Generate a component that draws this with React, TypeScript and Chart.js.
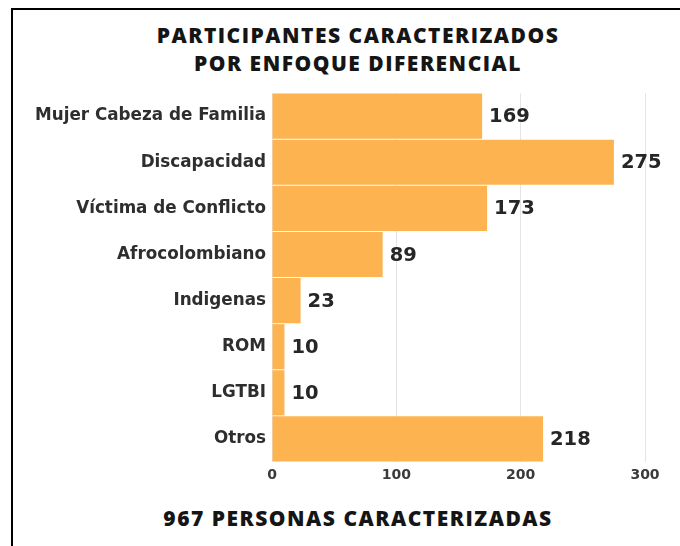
import React, { useEffect, useRef } from "react";
import { Chart, registerables } from "chart.js";

Chart.register(...registerables);

const categories = [
  "Mujer Cabeza de Familia",
  "Discapacidad",
  "Víctima de Conflicto",
  "Afrocolombiano",
  "Indigenas",
  "ROM",
  "LGTBI",
  "Otros",
];
const values = [169, 275, 173, 89, 23, 10, 10, 218];
const xTicks = [0, 100, 200, 300];
const titleLines = ["PARTICIPANTES CARACTERIZADOS", "POR ENFOQUE DIFERENCIAL"];
const footer = "967 PERSONAS CARACTERIZADAS";

const CANVAS_TOP = 77;
const CANVAS_H = 413;

const valueLabels = {
  id: "valueLabels",
  afterDatasetsDraw(chart: any) {
    const ctx = chart.ctx;
    const meta = chart.getDatasetMeta(0);
    ctx.save();
    ctx.font = "bold 19.5px 'DejaVu Sans'";
    ctx.fillStyle = "#262626";
    ctx.textAlign = "left";
    ctx.textBaseline = "middle";
    meta.data.forEach((bar: any, i: number) => {
      ctx.fillText(String(values[i]), bar.x + 7, bar.y + 1);
    });
    ctx.restore();
  },
};

export default function App() {
  const ref = useRef<HTMLCanvasElement>(null);
  useEffect(() => {
    document.body.style.margin = "0";
    const chart = new Chart(ref.current!, {
      type: "bar",
      data: {
        labels: categories,
        datasets: [
          {
            data: values,
            backgroundColor: "#fdb450",
            borderWidth: 0,
            barPercentage: 0.98,
            categoryPercentage: 1,
          },
        ],
      },
      options: {
        indexAxis: "y",
        animation: false,
        responsive: false,
        layout: { padding: { top: 9, right: 35, bottom: 8, left: 0 } },
        plugins: { legend: { display: false }, tooltip: { enabled: false } },
        scales: {
          x: {
            min: 0,
            max: 300,
            afterBuildTicks: (s: any) => {
              s.ticks = xTicks.map((v) => ({ value: v }));
            },
            afterFit: (s: any) => {
              s.height = 20;
            },
            grid: { color: "#e4e4e4", drawTicks: false },
            border: { display: false },
            ticks: {
              padding: 5,
              color: "#3a3a3a",
              font: { family: "'DejaVu Sans'", weight: "bold", size: 14 },
            },
          },
          y: {
            afterFit: (s: any) => {
              s.width = 272;
            },
            grid: { display: false, drawTicks: false },
            border: { display: false },
            ticks: {
              padding: 6,
              color: "#2e2e2e",
              font: { family: "'DejaVu Sans'", weight: "bold", size: 16.8 },
            },
          },
        },
      },
      plugins: [valueLabels],
    });
    return () => chart.destroy();
  }, []);

  const textStyle: React.CSSProperties = {
    position: "absolute",
    left: 0,
    width: 716,
    textAlign: "center",
    fontFamily: "'Open Sans'",
    fontWeight: 800,
    fontSize: 21,
    letterSpacing: "1.5px",
    color: "#151515",
    whiteSpace: "nowrap",
  };

  return (
    <div
      style={{
        position: "fixed",
        left: 0,
        top: 0,
        width: 680,
        height: 546,
        overflow: "hidden",
        background: "#fff",
      }}
    >
      <div
        style={{
          position: "absolute",
          left: 11,
          top: 8,
          width: 700,
          height: 600,
          borderLeft: "2px solid #000",
          borderTop: "2px solid #000",
        }}
      />
      <div style={{ ...textStyle, top: 21, lineHeight: "28px" }}>
        {titleLines[0]}
        <br />
        {titleLines[1]}
      </div>
      <canvas
        ref={ref}
        width={680}
        height={CANVAS_H}
        style={{ position: "absolute", left: 0, top: CANVAS_TOP, width: 680, height: CANVAS_H }}
      />
      <div style={{ ...textStyle, top: 504, lineHeight: "28px" }}>{footer}</div>
    </div>
  );
}
